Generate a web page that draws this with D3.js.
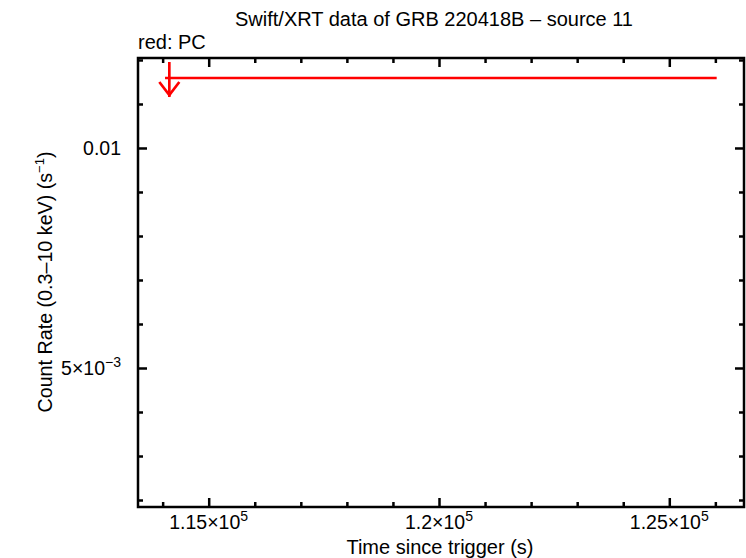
<!DOCTYPE html>
<html>
<head>
<meta charset="utf-8">
<script src="https://cdn.jsdelivr.net/npm/d3@7"></script>
<style>
  body { margin: 0; background: #fff; }
  svg { display: block; }
  text { font-family: "Liberation Sans", Arial, Helvetica, sans-serif; fill: #000; }
</style>
</head>
<body>
<svg id="chart" width="746" height="558"></svg>
<script>
// ---- data ----
const chartTitle = "Swift/XRT data of GRB 220418B \u2013 source 11";
const seriesLabel = "red: PC";
const times = [114145];          // s since trigger
const timeErrNeg = [93];
const timeErrPos = [11884];
const rates = [0.01159];         // count rate (upper limit)
const isUpperLimit = [true];

const xDomain = [113465, 126622];
const yDomain = [0.001841, 0.012045];
const xMajorTicks = [115000, 120000, 125000];
const xTickLabels = [["1.15\u00d710", "5"], ["1.2\u00d710", "5"], ["1.25\u00d710", "5"]];
const xMinorTicks = [114000, 116000, 117000, 118000, 119000, 121000, 122000, 123000, 124000, 126000];
const yMajorTicks = [0.01, 0.005];
const yTickLabels = [["0.01", ""], ["5\u00d710", "\u22123"]];
const yMinorTicks = [0.012, 0.011, 0.009, 0.008, 0.007, 0.006, 0.004, 0.003, 0.002];

// ---- layout ----
const svg = d3.select("#chart");
const L = 138, R = 744, T = 58, B = 507;
const x = d3.scaleLinear().domain(xDomain).range([L, R]);
const y = d3.scaleLinear().domain(yDomain).range([B, T]);
const red = "#ff0000";

function drawAxis(axisGen, transform) {
  const g = svg.append("g").attr("transform", transform).call(axisGen);
  g.select(".domain").remove();
  g.selectAll("text").remove();
  g.selectAll("line").attr("stroke", "#000").attr("stroke-width", 2.5);
  return g;
}
const majLen = 9, minLen = 5;
drawAxis(d3.axisBottom(x).tickValues(xMajorTicks).tickSize(-majLen).tickSizeOuter(0), `translate(0,${B})`);
drawAxis(d3.axisBottom(x).tickValues(xMinorTicks).tickSize(-minLen).tickSizeOuter(0), `translate(0,${B})`);
drawAxis(d3.axisTop(x).tickValues(xMajorTicks).tickSize(-majLen).tickSizeOuter(0), `translate(0,${T})`);
drawAxis(d3.axisTop(x).tickValues(xMinorTicks).tickSize(-minLen).tickSizeOuter(0), `translate(0,${T})`);
drawAxis(d3.axisLeft(y).tickValues(yMajorTicks).tickSize(-majLen).tickSizeOuter(0), `translate(${L},0)`);
drawAxis(d3.axisLeft(y).tickValues(yMinorTicks).tickSize(-minLen).tickSizeOuter(0), `translate(${L},0)`);
drawAxis(d3.axisRight(y).tickValues(yMajorTicks).tickSize(-majLen).tickSizeOuter(0), `translate(${R},0)`);
drawAxis(d3.axisRight(y).tickValues(yMinorTicks).tickSize(-minLen).tickSizeOuter(0), `translate(${R},0)`);

svg.append("rect").attr("x", L).attr("y", T).attr("width", R - L).attr("height", B - T)
  .attr("fill", "none").attr("stroke", "#000").attr("stroke-width", 2.5);

const fs = 19.5;
function label(g, base, sup) {
  g.append("tspan").text(base);
  if (sup) g.append("tspan").attr("dy", -8).attr("font-size", fs * 0.72).text(sup);
}
xMajorTicks.forEach((v, i) => {
  const t = svg.append("text").attr("x", x(v)).attr("y", 529).attr("text-anchor", "middle")
    .attr("font-size", fs);
  label(t, xTickLabels[i][0], xTickLabels[i][1]);
});
yMajorTicks.forEach((v, i) => {
  const t = svg.append("text").attr("x", 121).attr("y", y(v) + 7).attr("text-anchor", "end")
    .attr("font-size", fs);
  label(t, yTickLabels[i][0], yTickLabels[i][1]);
});

svg.append("text").attr("x", 434).attr("y", 26).attr("text-anchor", "middle")
  .attr("font-size", 20).text(chartTitle);
svg.append("text").attr("x", 138).attr("y", 49).attr("font-size", 20).text(seriesLabel);
svg.append("text").attr("x", 440).attr("y", 554).attr("text-anchor", "middle")
  .attr("font-size", 20).text("Time since trigger (s)");
const yl = svg.append("text").attr("transform", "translate(52,282) rotate(-90)")
  .attr("text-anchor", "middle").attr("font-size", 19.7);
yl.append("tspan").text("Count Rate (0.3\u201310 keV) (s");
yl.append("tspan").attr("dy", -8).attr("font-size", 13).text("\u22121");
yl.append("tspan").attr("dy", 8).text(")");

const g = svg.append("g").attr("stroke", red).attr("stroke-width", 2.7).attr("fill", "none");
times.forEach((t, i) => {
  const cx = x(t), cy = y(rates[i]);
  g.append("line").attr("x1", x(t - timeErrNeg[i])).attr("x2", x(t + timeErrPos[i]))
    .attr("y1", cy).attr("y2", cy);
  if (isUpperLimit[i]) {
    const tip = cy + 19;
    g.append("line").attr("x1", cx).attr("x2", cx).attr("y1", cy - 16).attr("y2", tip);
    g.append("path").attr("d", `M${cx - 10},${tip - 15}L${cx},${tip - 2}L${cx + 10},${tip - 15}`);
  }
});
</script>
</body>
</html>
